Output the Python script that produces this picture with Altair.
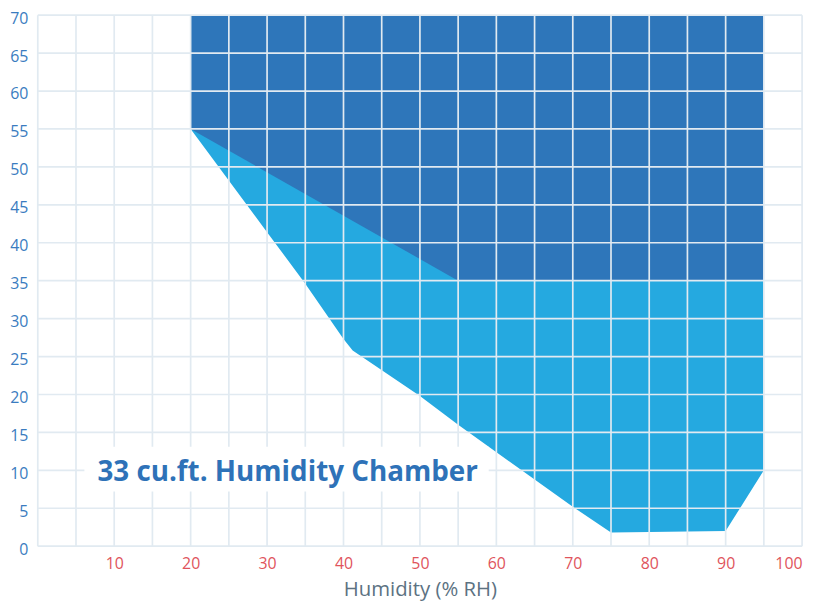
import altair as alt
import pandas as pd

# ---- data ----
grid_x = list(range(0, 101, 5))
grid_y = list(range(0, 71, 5))
x_label_values = [10, 20, 30, 40, 50, 60, 70, 80, 90, 100]
y_label_values = list(range(0, 71, 5))

light_x = [20, 30, 35, 40, 41.2, 50, 55, 70, 75, 90, 95]
light_low = [55, 41.4, 34.6, 27.3, 25.8, 19.8, 16, 5.2, 1.8, 2.0, 10]
dark_x = [20, 55, 95]
dark_low = [55, 35, 35]
top_y = 70

label_text = "33 cu.ft. Humidity Chamber"

light_df = pd.DataFrame({"x": light_x, "low": light_low, "high": [top_y] * len(light_x)})
dark_df = pd.DataFrame({"x": dark_x, "low": dark_low, "high": [top_y] * len(dark_x)})
gx_df = pd.DataFrame({"x": grid_x})
gy_df = pd.DataFrame({"low": grid_y})

FONT = "Open Sans"
xscale = alt.Scale(domain=[0, 100], nice=False, zero=False)
yscale = alt.Scale(domain=[0, 70], nice=False, zero=False)

x_axis = alt.Axis(values=x_label_values, grid=False, domain=False, ticks=False,
                  labelColor="#e0545c", labelFontSize=16, labelFont=FONT,
                  labelPadding=9, labelOverlap=False, titleFont=FONT,
                  titleFontSize=20.5, titleFontWeight="normal", titleColor="#5c7282",
                  titlePadding=9)
y_axis = alt.Axis(values=y_label_values, grid=False, domain=False, ticks=False,
                  labelColor="#3a7cc0", labelFontSize=16, labelFont=FONT,
                  labelPadding=10, labelOverlap=False, labelOffset=3)
XT = "Humidity (% RH)"

light = alt.Chart(light_df).mark_area(color="#25a9e0", opacity=1).encode(
    x=alt.X("x:Q", scale=xscale, axis=x_axis, title=XT),
    y=alt.Y("low:Q", scale=yscale, axis=y_axis, title=None),
    y2="high:Q",
)

dark = alt.Chart(dark_df).mark_area(color="#2e76ba", opacity=1).encode(
    x=alt.X("x:Q", scale=xscale, axis=x_axis, title=XT),
    y=alt.Y("low:Q", scale=yscale, axis=y_axis, title=None),
    y2="high:Q",
)

vgrid = alt.Chart(gx_df).mark_rule(color="#e1eaf1", strokeWidth=1.7).encode(
    x=alt.X("x:Q", scale=xscale, axis=x_axis, title=XT)
)
hgrid = alt.Chart(gy_df).mark_rule(color="#e1eaf1", strokeWidth=1.7).encode(
    y=alt.Y("low:Q", scale=yscale, axis=y_axis, title=None)
)

box = alt.Chart(pd.DataFrame({"t": [label_text]})).mark_rect(color="white").encode(
    x=alt.XDatum(6.1, scale=xscale, axis=x_axis, title=XT),
    x2=alt.datum(59.0),
    y=alt.YDatum(7.2, scale=yscale, axis=y_axis, title=None),
    y2=alt.datum(13.1),
)
text = alt.Chart(pd.DataFrame({"t": [label_text]})).mark_text(
    align="left", baseline="alphabetic", font=FONT, fontSize=28, fontWeight="bold",
    color="#2e72b8"
).encode(
    x=alt.XDatum(7.8, scale=xscale, axis=x_axis, title=XT),
    y=alt.YDatum(8.6, scale=yscale, axis=y_axis, title=None),
    text="t:N",
)

chart = alt.layer(light, dark, vgrid, hgrid, box, text).properties(
    width=770, height=535, autosize="none",
    padding={"left": 30, "top": 5, "right": 10, "bottom": 57},
).configure_view(stroke=None).configure_axis(labelOverlap=False)

chart.save("out.html", embed_options={"renderer": "svg", "actions": False})
